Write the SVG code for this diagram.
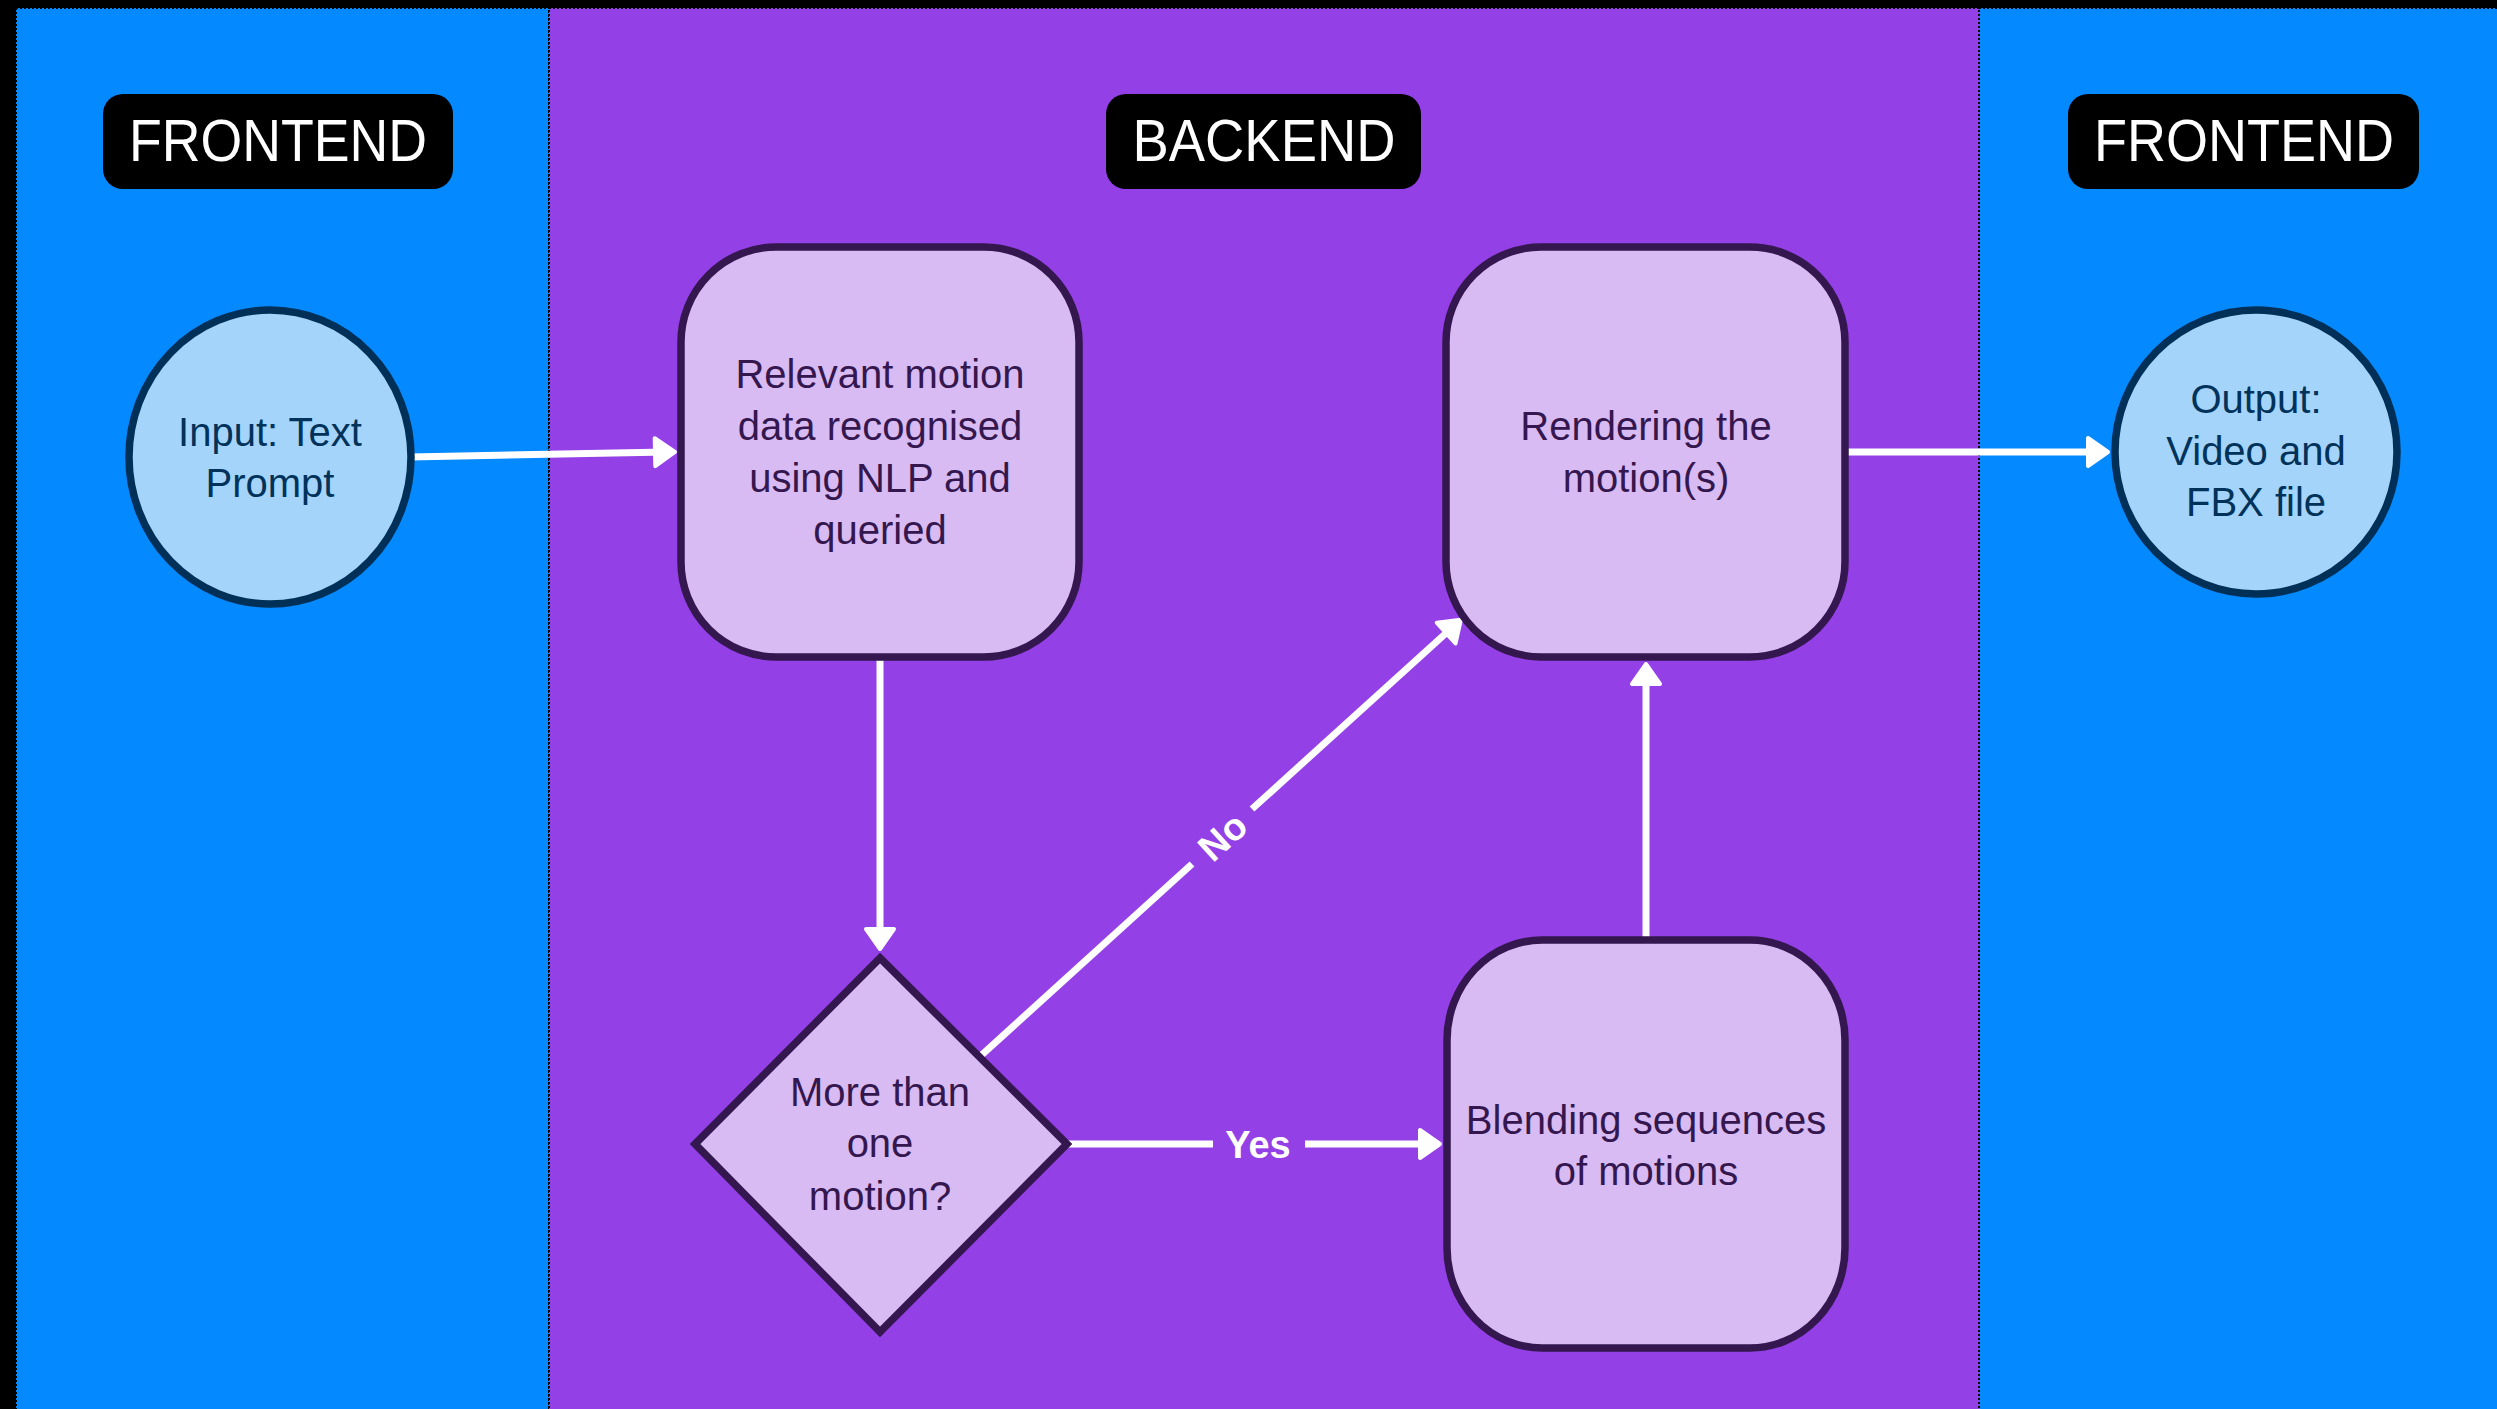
<svg xmlns="http://www.w3.org/2000/svg" width="2497" height="1409" viewBox="0 0 2497 1409">
<style>
.panel-blue{fill:#0589FF;stroke:#000;stroke-width:2;stroke-dasharray:2 2}
.panel-purple{fill:#9340E6;stroke:#000;stroke-width:2;stroke-dasharray:2 2}
.hdr rect{fill:#000}
.hdr text{font-family:"Liberation Sans",Arial,sans-serif;font-size:60px;fill:#fff;text-anchor:middle}
.circ ellipse{fill:#A5D4FA;stroke:#003058;stroke-width:7.5}
.circ text{font-family:"Liberation Sans",Arial,sans-serif;font-size:40px;fill:#00325A;text-anchor:middle}
.box rect,.box polygon{fill:#D9BBF3;stroke:#35174F;stroke-width:7.5}
.box text{font-family:"Liberation Sans",Arial,sans-serif;font-size:40px;fill:#35174F;text-anchor:middle}
.conn{stroke:#fff;stroke-width:7;fill:none}
.lbl{font-family:"Liberation Sans",Arial,sans-serif;font-size:38px;font-weight:bold;fill:#fff;text-anchor:middle}
</style>
<defs>
<marker id="arr" markerUnits="userSpaceOnUse" viewBox="-30 -20 40 40" markerWidth="40" markerHeight="40" refX="-10" refY="0" orient="auto">
<path d="M-2,0 L-22,-14 L-22,14 Z" fill="#fff" stroke="#fff" stroke-width="4" stroke-linejoin="round"/>
</marker>
</defs>
<rect x="0" y="0" width="2497" height="1409" fill="#000"/>
<g id="panels">
<rect class="panel-blue" x="16" y="8" width="533" height="1410"/>
<rect class="panel-purple" x="549" y="8" width="1430" height="1410"/>
<rect class="panel-blue" x="1979" y="8" width="530" height="1410"/>
</g>
<g id="hdr-frontend-left" class="hdr">
<rect x="103" y="94" width="350" height="95" rx="20"/>
<text x="278" y="161" textLength="298" lengthAdjust="spacingAndGlyphs">FRONTEND</text>
</g>
<g id="hdr-backend" class="hdr">
<rect x="1106" y="94" width="315" height="95" rx="20"/>
<text x="1264" y="161" textLength="263" lengthAdjust="spacingAndGlyphs">BACKEND</text>
</g>
<g id="hdr-frontend-right" class="hdr">
<rect x="2068" y="94" width="351" height="95" rx="20"/>
<text x="2244" y="161" textLength="300" lengthAdjust="spacingAndGlyphs">FRONTEND</text>
</g>
<g id="connectors">
<line class="conn" x1="410" y1="457" x2="667" y2="452" marker-end="url(#arr)"/>
<line class="conn" x1="880" y1="658" x2="880" y2="941" marker-end="url(#arr)"/>
<line class="conn" x1="975" y1="1061" x2="1192" y2="864"/>
<line class="conn" x1="1252" y1="809" x2="1455" y2="625" marker-end="url(#arr)"/>
<text class="lbl" x="1222" y="850" transform="rotate(-42.3 1222 836)">No</text>
<line class="conn" x1="1065" y1="1144" x2="1213" y2="1144"/>
<line class="conn" x1="1305" y1="1144" x2="1432" y2="1144" marker-end="url(#arr)"/>
<text class="lbl" x="1258" y="1158">Yes</text>
<line class="conn" x1="1646" y1="940" x2="1646" y2="672" marker-end="url(#arr)"/>
<line class="conn" x1="1845" y1="452" x2="2100" y2="452" marker-end="url(#arr)"/>
</g>
<g id="node-input" class="circ">
<ellipse cx="270" cy="457" rx="141" ry="147"/>
<text x="270" y="446">Input: Text</text>
<text x="270" y="497">Prompt</text>
</g>
<g id="node-relevant" class="box">
<rect x="681" y="247" width="398" height="410" rx="95" ry="95"/>
<text x="880" y="388">Relevant motion</text>
<text x="880" y="440">data recognised</text>
<text x="880" y="492">using NLP and</text>
<text x="880" y="544">queried</text>
</g>
<g id="node-decision" class="box">
<polygon points="880,958 1067,1144 880,1332 695,1144"/>
<text x="880" y="1106">More than</text>
<text x="880" y="1157">one</text>
<text x="880" y="1210">motion?</text>
</g>
<g id="node-rendering" class="box">
<rect x="1446" y="247" width="399" height="410" rx="95" ry="95"/>
<text x="1646" y="440">Rendering the</text>
<text x="1646" y="492">motion(s)</text>
</g>
<g id="node-blending" class="box">
<rect x="1447" y="940" width="398" height="408" rx="95" ry="100"/>
<text x="1646" y="1134">Blending sequences</text>
<text x="1646" y="1185">of motions</text>
</g>
<g id="node-output" class="circ">
<ellipse cx="2256" cy="452" rx="141" ry="142"/>
<text x="2256" y="413">Output:</text>
<text x="2256" y="465">Video and</text>
<text x="2256" y="516">FBX file</text>
</g>
</svg>
